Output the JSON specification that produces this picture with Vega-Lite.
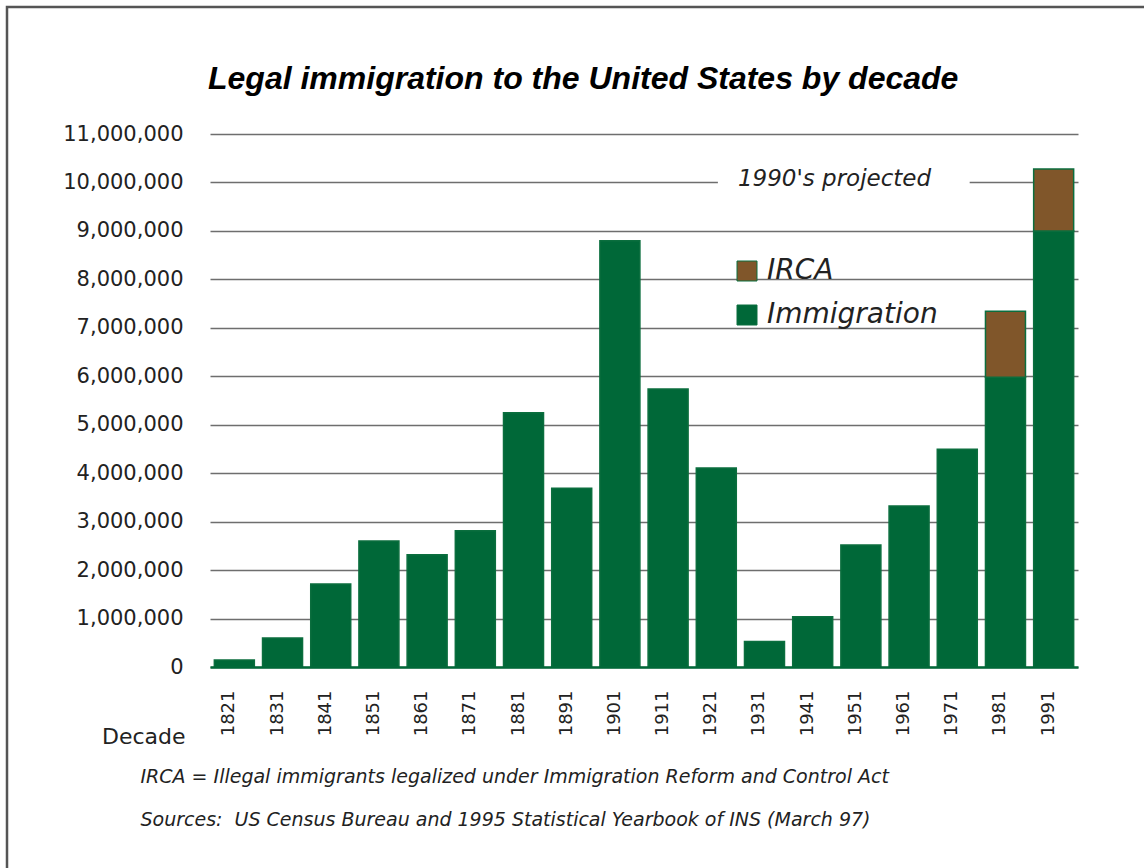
{
  "$schema": "https://vega.github.io/schema/vega-lite/v6.json",
  "width": 1140,
  "height": 864,
  "autosize": {"type": "none"},
  "padding": {"left": 7, "top": 7, "right": -3, "bottom": -3},
  "background": "white",
  "config": {
    "view": {"stroke": "#555555", "strokeWidth": 2.5},
    "font": "DejaVu Sans"
  },
  "title": {
    "text": "Legal immigration to the United States by decade",
    "anchor": "start",
    "frame": "group",
    "dx": 201,
    "offset": -114,
    "baseline": "alphabetic",
    "font": "Liberation Sans",
    "fontSize": 32,
    "fontWeight": "bold",
    "fontStyle": "italic",
    "color": "#000000"
  },
  "datasets": {
    "bars": [
      {"decade": "1821", "type": "Immigration", "count": 143439},
      {"decade": "1831", "type": "Immigration", "count": 599125},
      {"decade": "1841", "type": "Immigration", "count": 1713251},
      {"decade": "1851", "type": "Immigration", "count": 2598214},
      {"decade": "1861", "type": "Immigration", "count": 2314824},
      {"decade": "1871", "type": "Immigration", "count": 2812191},
      {"decade": "1881", "type": "Immigration", "count": 5246613},
      {"decade": "1891", "type": "Immigration", "count": 3687564},
      {"decade": "1901", "type": "Immigration", "count": 8795386},
      {"decade": "1911", "type": "Immigration", "count": 5735811},
      {"decade": "1921", "type": "Immigration", "count": 4107209},
      {"decade": "1931", "type": "Immigration", "count": 528431},
      {"decade": "1941", "type": "Immigration", "count": 1035039},
      {"decade": "1951", "type": "Immigration", "count": 2515479},
      {"decade": "1961", "type": "Immigration", "count": 3321677},
      {"decade": "1971", "type": "Immigration", "count": 4493314},
      {"decade": "1981", "type": "Immigration", "count": 5980000},
      {"decade": "1981", "type": "IRCA", "count": 1360000},
      {"decade": "1991", "type": "Immigration", "count": 9000000},
      {"decade": "1991", "type": "IRCA", "count": 1280000}
    ],
    "note": [
      {"from": "1921", "to": "1971", "y": 10000000, "label": "1990's projected"}
    ]
  },
  "layer": [
    {
      "data": {"name": "bars"},
      "mark": {"type": "bar", "stroke": "#0b6e3e", "strokeWidth": 1.5},
      "encoding": {
        "x": {
          "field": "decade",
          "type": "ordinal",
          "scale": {"range": [203, 1071], "paddingInner": 0.17, "paddingOuter": 0.09},
          "axis": {
            "title": ["IRCA = Illegal immigrants legalized under Immigration Reform and Control Act", "Sources:\u00a0 US Census Bureau and 1995 Statistical Yearbook of INS (March 97)"],
            "titleFont": "DejaVu Sans",
            "titleFontStyle": "italic",
            "titleFontWeight": "normal",
            "titleFontSize": 19,
            "titleColor": "#222222",
            "titleX": 133,
            "titleY": 115,
            "titleAlign": "left",
            "titleAnchor": "start",
            "titleBaseline": "alphabetic",
            "titleLineHeight": 43,
            "offset": -204,
            "labelAngle": -90,
            "labelFont": "DejaVu Sans",
            "labelFontSize": 18,
            "labelColor": "#222222",
            "labelPadding": 23,
            "labelOffset": -5,
            "ticks": false,
            "domain": true,
            "domainColor": "#006838",
            "domainWidth": 2.5,
            "grid": false,
            "zindex": 1
          }
        },
        "y": {
          "field": "count",
          "type": "quantitative",
          "stack": "zero",
          "scale": {"domain": [0, 11000000], "range": [660, 127], "nice": false},
          "axis": {
            "title": "Decade",
            "titleAngle": 0,
            "titleX": -25,
            "titleY": 736,
            "titleAlign": "right",
            "titleBaseline": "alphabetic",
            "titleFont": "DejaVu Sans",
            "titleFontSize": 22,
            "titleFontWeight": "normal",
            "titleColor": "#222222",
            "offset": -203,
            "values": [0, 1000000, 2000000, 3000000, 4000000, 5000000, 6000000, 7000000, 8000000, 9000000, 10000000, 11000000],
            "labelExpr": "format(datum.value, ',')",
            "labelFont": "DejaVu Sans",
            "labelFontSize": 21,
            "labelColor": "#222222",
            "labelPadding": 27,
            "ticks": false,
            "domain": false,
            "grid": true,
            "gridColor": "#6e6e6e",
            "gridWidth": 1.5,
            "gridOpacity": 1
          }
        },
        "color": {
          "field": "type",
          "type": "nominal",
          "scale": {"domain": ["IRCA", "Immigration"], "range": ["#80562a", "#006838"]},
          "legend": {
            "orient": "none",
            "legendX": 726,
            "legendY": 250,
            "title": null,
            "symbolType": "square",
            "symbolSize": 400,
            "symbolStrokeWidth": 1,
            "labelFont": "DejaVu Sans",
            "labelFontStyle": "italic",
            "labelFontSize": 28,
            "labelLimit": 400,
            "labelColor": "#222222",
            "labelOffset": 6,
            "rowPadding": 16,
            "padding": 0
          }
        },
        "order": {"field": "type", "sort": "descending"}
      }
    },
    {
      "data": {"name": "note"},
      "mark": {"type": "rule", "color": "white", "strokeWidth": 8},
      "encoding": {
        "x": {"field": "from", "type": "ordinal", "bandPosition": 0.54},
        "x2": {"field": "to", "bandPosition": 0.81},
        "y": {"field": "y", "type": "quantitative", "axis": {"labelExpr": "format(datum.value, ',')"}}
      }
    },
    {
      "data": {"name": "note"},
      "mark": {"type": "text", "align": "left", "baseline": "alphabetic", "dx": 20, "dy": 4, "font": "DejaVu Sans", "fontStyle": "italic", "fontSize": 23, "color": "#222222"},
      "encoding": {
        "x": {"field": "from", "type": "ordinal", "bandPosition": 0.54},
        "y": {"field": "y", "type": "quantitative", "axis": {"labelExpr": "format(datum.value, ',')"}},
        "text": {"field": "label"}
      }
    }
  ]
}
